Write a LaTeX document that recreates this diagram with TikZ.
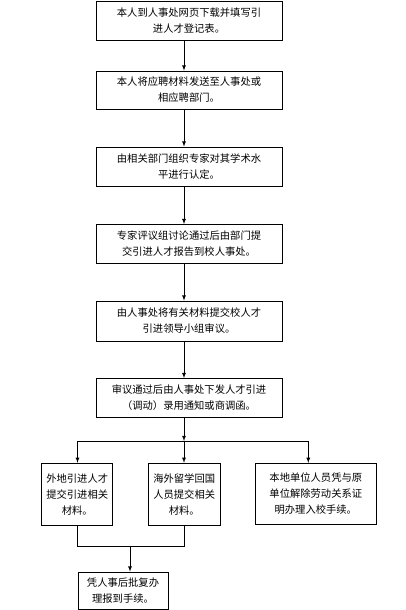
\documentclass[tikz,border=0pt]{standalone}
\usepackage{fontspec}
\setmainfont{Noto Sans CJK SC}
\usepackage{tikz}
\usetikzlibrary{calc}
\usetikzlibrary{positioning}

\begin{document}
\begin{tikzpicture}[x=1pt,y=-1pt,
		stepbox/.style={draw,line width=0.8pt,inner sep=0pt,align=center,font=\fontsize{10.3}{16}\selectfont},
		arr/.style={-latex,line width=0.8pt},
		ln/.style={line width=0.8pt}]
		\useasboundingbox (0,0) rectangle (405,610);
		\coordinate (spine) at (184,0);
		\node[stepbox,minimum width=186pt,minimum height=39pt] (reg) at (189,20.5) {本人到人事处网页下载并填写引\\进人才登记表。};
		\node[stepbox,minimum width=186pt,minimum height=38pt] (send) at (189,90) {本人将应聘材料发送至人事处或\\相应聘部门。};
		\node[stepbox,minimum width=186pt,minimum height=39pt] (evaluate) at (189,166.5) {由相关部门组织专家对其学术水\\平进行认定。};
		\node[stepbox,minimum width=186pt,minimum height=39pt] (report) at (189,244) {专家评议组讨论通过后由部门提\\交引进人才报告到校人事处。};
		\node[stepbox,minimum width=186pt,minimum height=40pt] (review) at (189,321) {由人事处将有关材料提交校人才\\引进领导小组审议。};
		\node[stepbox,minimum width=186pt,minimum height=39pt] (notice) at (189,398) {审议通过后由人事处下发人才引进\\（调动）录用通知或商调函。};
		\node[stepbox,minimum width=71pt,minimum height=62pt] (outside) at (77.2,494.2) {外地引进人才\\提交引进相关\\材料。};
		\node[stepbox,minimum width=72pt,minimum height=62pt] (abroad) at (184.2,494.2) {海外留学回国\\人员提交相关\\材料。};
		\node[stepbox,minimum width=121pt,minimum height=61pt] (local) at (315.8,493.8) {本地单位人员凭与原\\单位解除劳动关系证\\明办理入校手续。};
		\node[stepbox,minimum width=90pt,minimum height=37pt] (checkin) at (123,590.5) {凭人事后批复办\\理报到手续。};
		\coordinate (split) at (184,441);
		\coordinate (splitL) at (77.5,441);
		\coordinate (splitR) at (308.3,441);
		\coordinate (join) at (130,546.7);
		\draw[arr] (spine |- reg.south) -- (spine |- send.north);
		\draw[arr] (spine |- send.south) -- (spine |- evaluate.north);
		\draw[arr] (spine |- evaluate.south) -- (spine |- report.north);
		\draw[arr] (spine |- report.south) -- (spine |- review.north);
		\draw[arr] (spine |- review.south) -- (spine |- notice.north);
		\draw[arr] (spine |- notice.south) -- (split);
		\draw[ln] (splitL) -- (splitR);
		\draw[arr] (splitL) -- (splitL |- outside.north);
		\draw[arr] (split) -- (split |- abroad.north);
		\draw[arr] (splitR) -- (splitR |- local.north);
		\draw[ln] (outside.south) |- (join) -| (abroad.south);
		\draw[arr] (join) -- (join |- checkin.north);
	\end{tikzpicture}
\end{document}
